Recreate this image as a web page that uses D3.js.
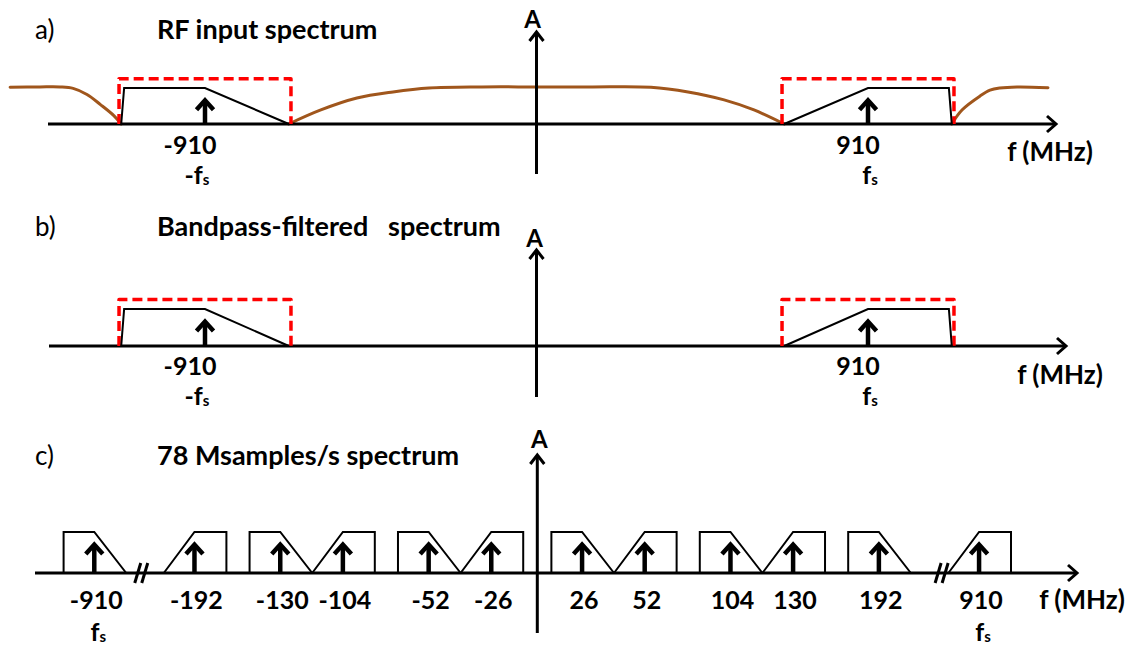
<!DOCTYPE html>
<html>
<head>
<meta charset="utf-8">
<script src="https://cdn.jsdelivr.net/npm/d3@7"></script>
<style>
  body { margin: 0; background: #ffffff; }
  svg { display: block; font-family: Lato, "Open Sans", "DejaVu Sans", sans-serif; }
</style>
</head>
<body>
<svg id="chart" width="1133" height="646"></svg>
<script>
// ---------------- data ----------------
// Carriers of the RF signal (MHz) and their labels
const carrierFreqs = [-910, 910];
const carrierTicks = ['-910', '910'];
const carrierSymbols = ['-f', 'f'];          // followed by a subscript "s"

// Signal band and bandpass filter, in MHz around each carrier
const signalHalfWidth = 230;
const steepEdge = 8;
const filterHalfWidth = 236;

// Relative amplitudes
const signalLevel = 1.0;
const filterLevel = 1.26;
const carrierLevel = 0.7;

// Out-of-band RF input (frequency MHz, relative amplitude)
const rfLeft = [[-1445, 1.02], [-1363, 1.03], [-1308, 1.03], [-1272, 0.99], [-1234, 0.82],
                [-1197, 0.54], [-1161, 0.24], [-1140, 0]];
const rfMid = [[-680, 0], [-592, 0.39], [-493, 0.72], [-394, 0.89], [-295, 1.0], [-150, 1.03],
               [0, 1.03], [150, 1.03], [314, 1.02], [416, 0.89], [515, 0.67], [597, 0.39], [680, 0]];
const rfRight = [[1140, 0], [1168, 0.39], [1218, 0.78], [1245, 0.94], [1272, 1.0], [1319, 1.03],
                 [1404, 1.01]];

// Replicas after sampling at 78 Msamples/s
const aliasTicks = ['-910', '-192', '-130', '-104', '-52', '-26', '26', '52', '104', '130', '192', '910'];
const aliasShape = ['fall', 'rise', 'fall', 'rise', 'fall', 'rise', 'fall', 'rise', 'fall', 'rise', 'fall', 'rise'];
const aliasSeparators = ['break', 'gap', 'none', 'gap', 'none', 'axis', 'none', 'gap', 'none', 'gap', 'break'];
const aliasFsTicks = ['-910', '910'];

// ---------------- drawing ----------------
const svg = d3.select('#chart');
const BLACK = '#000000', RED = '#ff0000', BROWN = '#a0561c';
const FONT_BOLD = 700;
const TITLE_SIZE = 27, TICK_SIZE = 25;

const xRF = d3.scaleLinear().domain(d3.extent(carrierFreqs)).range([205, 868]);

function chevronRight(g, x, y) {
  g.append('path')
    .attr('d', `M${x - 9},${y - 8} L${x},${y} L${x - 9},${y + 8}`)
    .attr('fill', 'none').attr('stroke', BLACK).attr('stroke-width', 3)
    .attr('stroke-linejoin', 'miter');
}
function chevronUp(g, x, y) {
  g.append('path')
    .attr('d', `M${x - 7},${y + 9} L${x},${y} L${x + 7},${y + 9}`)
    .attr('fill', 'none').attr('stroke', BLACK).attr('stroke-width', 3)
    .attr('stroke-linejoin', 'miter');
}
function carrierArrow(g, x, yBase, yTip) {
  g.append('line').attr('x1', x).attr('x2', x).attr('y1', yBase).attr('y2', yTip + 2)
    .attr('stroke', BLACK).attr('stroke-width', 4.5);
  g.append('path')
    .attr('d', `M${x - 8.5},${yTip + 11} L${x},${yTip + 1.5} L${x + 8.5},${yTip + 11}`)
    .attr('fill', 'none').attr('stroke', BLACK).attr('stroke-width', 4.5)
    .attr('stroke-linejoin', 'miter');
}
function fsLabel(g, x, y, prefix) {
  const t = g.append('text').attr('x', x).attr('y', y).attr('text-anchor', 'middle')
    .attr('font-size', TICK_SIZE).attr('font-weight', FONT_BOLD).attr('fill', BLACK);
  t.append('tspan').text(prefix);
  t.append('tspan').attr('font-size', 15).attr('dy', 1).text('s');
}
function axes(g, p, x0) {
  g.append('line').attr('x1', p.lineStart).attr('x2', p.lineEnd - 1)
    .attr('y1', p.base).attr('y2', p.base).attr('stroke', BLACK).attr('stroke-width', 3);
  chevronRight(g, p.lineEnd, p.base);
  g.append('line').attr('x1', x0).attr('x2', x0).attr('y1', p.axisBottom).attr('y2', p.axisTop + 1)
    .attr('stroke', BLACK).attr('stroke-width', 3);
  chevronUp(g, x0, p.axisTop);
  g.append('text').attr('x', x0 + p.aDx).attr('y', p.aY).attr('text-anchor', 'middle')
    .attr('font-size', 24).attr('font-weight', FONT_BOLD).text('A');
  g.append('text').attr('x', p.unitX).attr('y', p.unitY).attr('text-anchor', 'middle')
    .attr('font-size', 26).attr('font-weight', FONT_BOLD).text('f (MHz)');
  g.append('text').attr('x', 35).attr('y', p.titleY).attr('font-size', 26).text(p.label);
  g.append('text').attr('x', 157).attr('y', p.titleY).attr('font-size', TITLE_SIZE)
    .attr('font-weight', FONT_BOLD).style('white-space', 'pre').text(p.title);
}

// Panels a) and b): RF and filtered spectra on a linear frequency axis
const panelsAB = [
  { label: 'a)', title: 'RF input spectrum', base: 124, unit: 36, axisTop: 32, axisBottom: 174,
    lineStart: 48, lineEnd: 1056, titleY: 39, tickY: 154, symY: 184, unitX: 1050, unitY: 161,
    aY: 28, aDx: -4, rf: true },
  { label: 'b)', title: 'Bandpass-filtered   spectrum', base: 346, unit: 37, axisTop: 250, axisBottom: 397,
    lineStart: 49, lineEnd: 1066, titleY: 236, tickY: 375, symY: 405, unitX: 1060, unitY: 384,
    aY: 247, aDx: -2, rf: false }
];

panelsAB.forEach(p => {
  const g = svg.append('g');
  const y = d3.scaleLinear().domain([0, 1]).range([p.base, p.base - p.unit]);
  const x0 = xRF(0);

  if (p.rf) {
    const rfLine = d3.line().x(d => xRF(d[0])).y(d => y(d[1])).curve(d3.curveCatmullRom.alpha(0.5));
    [rfLeft, rfMid, rfRight].forEach(seg => {
      g.append('path').attr('d', rfLine(seg)).attr('fill', 'none')
        .attr('stroke', BROWN).attr('stroke-width', 3).attr('stroke-linecap', 'round');
    });
  }

  axes(g, p, x0);

  const line = d3.line().x(d => xRF(d[0])).y(d => y(d[1]));
  carrierFreqs.forEach((fc, i) => {
    const s = Math.sign(fc);   // negative image has its sharp edge on the low side
    const filter = [[fc - filterHalfWidth, 0], [fc - filterHalfWidth, filterLevel],
                    [fc + filterHalfWidth, filterLevel], [fc + filterHalfWidth, 0]];
    g.append('path').attr('d', line(filter)).attr('fill', 'none')
      .attr('stroke', RED).attr('stroke-width', 3.5).attr('stroke-dasharray', '10,5')
      .attr('stroke-linejoin', 'round');

    const band = s < 0
      ? [[fc - signalHalfWidth, 0], [fc - signalHalfWidth + steepEdge, signalLevel], [fc, signalLevel], [fc + signalHalfWidth, 0]]
      : [[fc - signalHalfWidth, 0], [fc, signalLevel], [fc + signalHalfWidth - steepEdge, signalLevel], [fc + signalHalfWidth, 0]];
    g.append('path').attr('d', line(band)).attr('fill', 'none')
      .attr('stroke', BLACK).attr('stroke-width', 2);

    carrierArrow(g, xRF(fc), p.base, y(carrierLevel));

    g.append('text').attr('x', xRF(fc) + (s < 0 ? -15 : -10)).attr('y', p.tickY)
      .attr('text-anchor', 'middle').attr('font-size', TICK_SIZE).attr('font-weight', FONT_BOLD)
      .text(carrierTicks[i]);
    fsLabel(g, xRF(fc) + (s < 0 ? -8 : 2), p.symY, carrierSymbols[i]);
  });
});

// Panel c): replicas of the sampled spectrum
(function () {
  const p = { label: 'c)', title: '78 Msamples/s spectrum', base: 573, unit: 41, axisTop: 455, axisBottom: 633,
              lineStart: 35, lineEnd: 1077, titleY: 465, unitX: 1082, unitY: 609, aY: 448, aDx: 2 };
  const sepWidth = { none: 0, gap: 0.37, axis: 0.45, break: 0.6 };
  const starts = [0];
  aliasSeparators.forEach((s, i) => starts.push(starts[i] + 1 + sepWidth[s]));
  const total = starts[starts.length - 1] + 1;
  const xs = d3.scaleLinear().domain([0, total]).range([63.6, 1011]);
  const y = d3.scaleLinear().domain([0, 1]).range([p.base, p.base - p.unit]);

  const axisIdx = aliasSeparators.indexOf('axis');
  const x0 = xs((starts[axisIdx] + 1 + starts[axisIdx + 1]) / 2);

  const g = svg.append('g');
  axes(g, p, x0);

  const peak = 0.49;
  const shapes = {
    fall: [[0, 0], [0, signalLevel], [peak, signalLevel], [1, 0]],
    rise: [[0, 0], [peak, signalLevel], [1, signalLevel], [1, 0]]
  };

  aliasTicks.forEach((t, i) => {
    const u0 = starts[i];
    const line = d3.line().x(d => xs(u0 + d[0])).y(d => y(d[1]));
    g.append('path').attr('d', line(shapes[aliasShape[i]])).attr('fill', 'none')
      .attr('stroke', BLACK).attr('stroke-width', 2);
    const xc = xs(u0 + peak);
    carrierArrow(g, xc, p.base, y(0.73));
    g.append('text').attr('x', xc + 2).attr('y', 609).attr('text-anchor', 'middle')
      .attr('font-size', TICK_SIZE).attr('font-weight', FONT_BOLD).text(t);
    if (aliasFsTicks.includes(t)) fsLabel(g, xc + 4, 641, 'f');
  });

  // axis break marks
  const breakAt = [0.4, 0.82];
  aliasSeparators.map((s, i) => ({ s, i })).filter(d => d.s === 'break').forEach((d, k) => {
    const a = starts[d.i] + 1, b = starts[d.i + 1];
    const cx = xs(a + (b - a) * breakAt[k]);
    [-3.5, 3.5].forEach(off => {
      g.append('line').attr('x1', cx + off - 3).attr('y1', p.base + 10)
        .attr('x2', cx + off + 3).attr('y2', p.base - 10)
        .attr('stroke', BLACK).attr('stroke-width', 3);
    });
  });
})();
</script>
</body>
</html>
